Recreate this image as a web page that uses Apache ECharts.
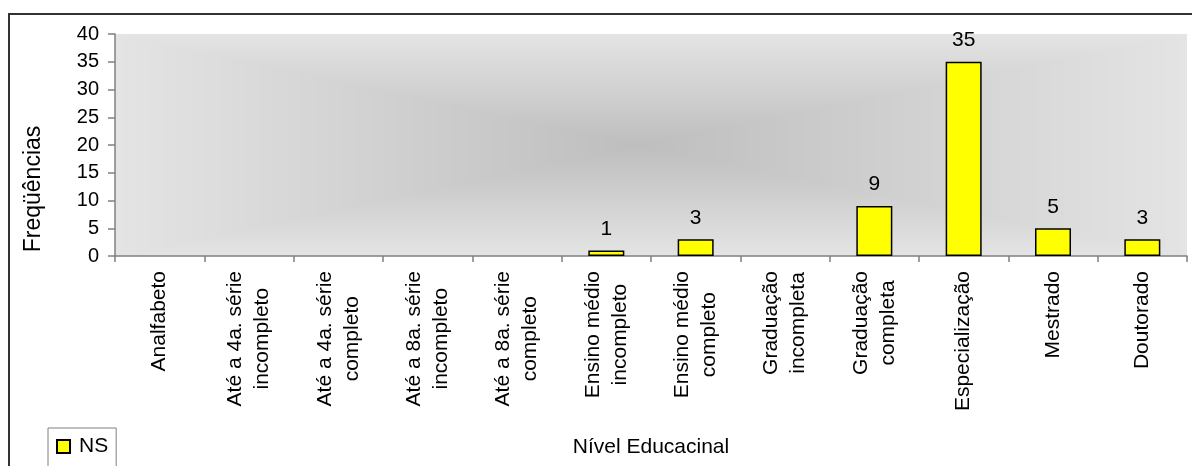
<!DOCTYPE html>
<html>
<head>
<meta charset="utf-8">
<style>
  html, body { margin: 0; padding: 0; background: #ffffff; }
  #chart { width: 1192px; height: 466px; }
</style>
<script src="https://cdn.jsdelivr.net/npm/echarts@6/dist/echarts.min.js"></script>
</head>
<body>
<div id="chart"></div>
<script>
// Education level categories (two-line labels)
const categories = [
  'Analfabeto',
  'Até a 4a. série\nincompleto',
  'Até a 4a. série\ncompleto',
  'Até a 8a. série\nincompleto',
  'Até a 8a. série\ncompleto',
  'Ensino médio\nincompleto',
  'Ensino médio\ncompleto',
  'Graduação\nincompleta',
  'Graduação\ncompleta',
  'Especialização',
  'Mestrado',
  'Doutorado'
];
// Frequencies for series "NS"
const valuesNS = [0, 0, 0, 0, 0, 1, 3, 0, 9, 35, 5, 3];
// Y axis range
const yMin = 0, yMax = 40, yStep = 5;

const FONT = '"Liberation Sans", Arial, sans-serif';

// Plot area in pixels
const G = { left: 115, top: 34, right: 5, bottom: 210 };
const W = 1192, H = 466;
const gw = W - G.left - G.right, gh = H - G.top - G.bottom;

// Rectangular "from centre" shading for the plot background
function makeShade() {
  const c = document.createElement('canvas');
  c.width = gw; c.height = gh;
  const ctx = c.getContext('2d');
  const img = ctx.createImageData(gw, gh);
  const cx = 522, cy = 111;
  const inner = 190, outer = 228;
  for (let y = 0; y < gh; y++) {
    for (let x = 0; x < gw; x++) {
      const dx = x - cx, dy = y - cy;
      const ax = dx < 0 ? cx : gw - cx;
      const ay = dy < 0 ? cy : gh - cy;
      let t = Math.max(Math.abs(dx) / ax, Math.abs(dy) / ay);
      t = Math.min(1, t);
      const v = Math.round(inner + (outer - inner) * t);
      const i = (y * gw + x) * 4;
      img.data[i] = v; img.data[i + 1] = v; img.data[i + 2] = v; img.data[i + 3] = 255;
    }
  }
  ctx.putImageData(img, 0, 0);
  return c;
}

const chart = echarts.init(document.getElementById('chart'), null, { renderer: 'canvas' });

chart.setOption({
  animation: false,
  backgroundColor: '#ffffff',
  textStyle: { fontFamily: FONT },
  grid: { left: G.left, top: G.top, right: G.right, bottom: G.bottom, containLabel: false },
  graphic: [
    {
      type: 'rect', z: -20, silent: true,
      shape: { x: 9, y: 14, width: 1400, height: 800 },
      style: { fill: null, stroke: '#333333', lineWidth: 2 }
    },
    {
      type: 'image', z: -10, silent: true,
      style: { image: makeShade(), x: G.left, y: G.top, width: gw, height: gh }
    },
    {
      type: 'text', silent: true,
      x: 34, y: 189, rotation: Math.PI / 2,
      style: {
        text: 'Freqüências', fill: '#000000', font: '23px ' + FONT,
        align: 'center', verticalAlign: 'middle'
      }
    }
  ],
  legend: {
    left: 48, top: 428,
    orient: 'horizontal',
    padding: [8, 8, 20, 8],
    borderColor: '#808080', borderWidth: 1,
    itemWidth: 13, itemHeight: 13,
    icon: 'rect',
    textStyle: { fontSize: 21, color: '#000000', fontFamily: FONT, padding: [0, 0, 0, 4] },
    data: ['NS']
  },
  xAxis: {
    type: 'category',
    data: categories,
    boundaryGap: true,
    name: 'Nível Educacinal',
    nameLocation: 'middle',
    nameGap: 181,
    nameTextStyle: { fontSize: 21, color: '#000000', fontFamily: FONT },
    axisLine: { lineStyle: { color: '#808080', width: 1.5 } },
    axisTick: { show: true, length: 6, alignWithLabel: false, lineStyle: { color: '#808080', width: 1.5 } },
    axisLabel: {
      interval: 0,
      rotate: 90,
      margin: 15,
      color: '#000000',
      fontSize: 21,
      fontFamily: FONT,
      lineHeight: 27,
      formatter: v => v.split('\n').map(s => '{c|' + s + '}').join('\n'),
      rich: { c: { fontSize: 21, lineHeight: 27, align: 'center', fontFamily: FONT, color: '#000000' } }
    },
    splitLine: { show: false }
  },
  yAxis: {
    type: 'value',
    min: yMin, max: yMax, interval: yStep,
    axisLine: { show: true, lineStyle: { color: '#808080', width: 1.5 } },
    axisTick: { show: true, length: 7, lineStyle: { color: '#808080', width: 1.5 } },
    axisLabel: { color: '#000000', fontSize: 20, margin: 16, fontFamily: FONT },
    splitLine: { show: false }
  },
  series: [
    {
      name: 'NS',
      type: 'bar',
      // empty categories draw no bar at all
      data: valuesNS.map(v => (v === 0 ? '-' : v)),
      barWidth: 36,
      itemStyle: { color: '#ffff00', borderColor: '#000000', borderWidth: 1.5 },
      label: {
        show: true,
        position: 'top',
        distance: 11,
        fontSize: 21,
        color: '#000000',
        fontFamily: FONT
      }
    }
  ]
});
</script>
</body>
</html>
